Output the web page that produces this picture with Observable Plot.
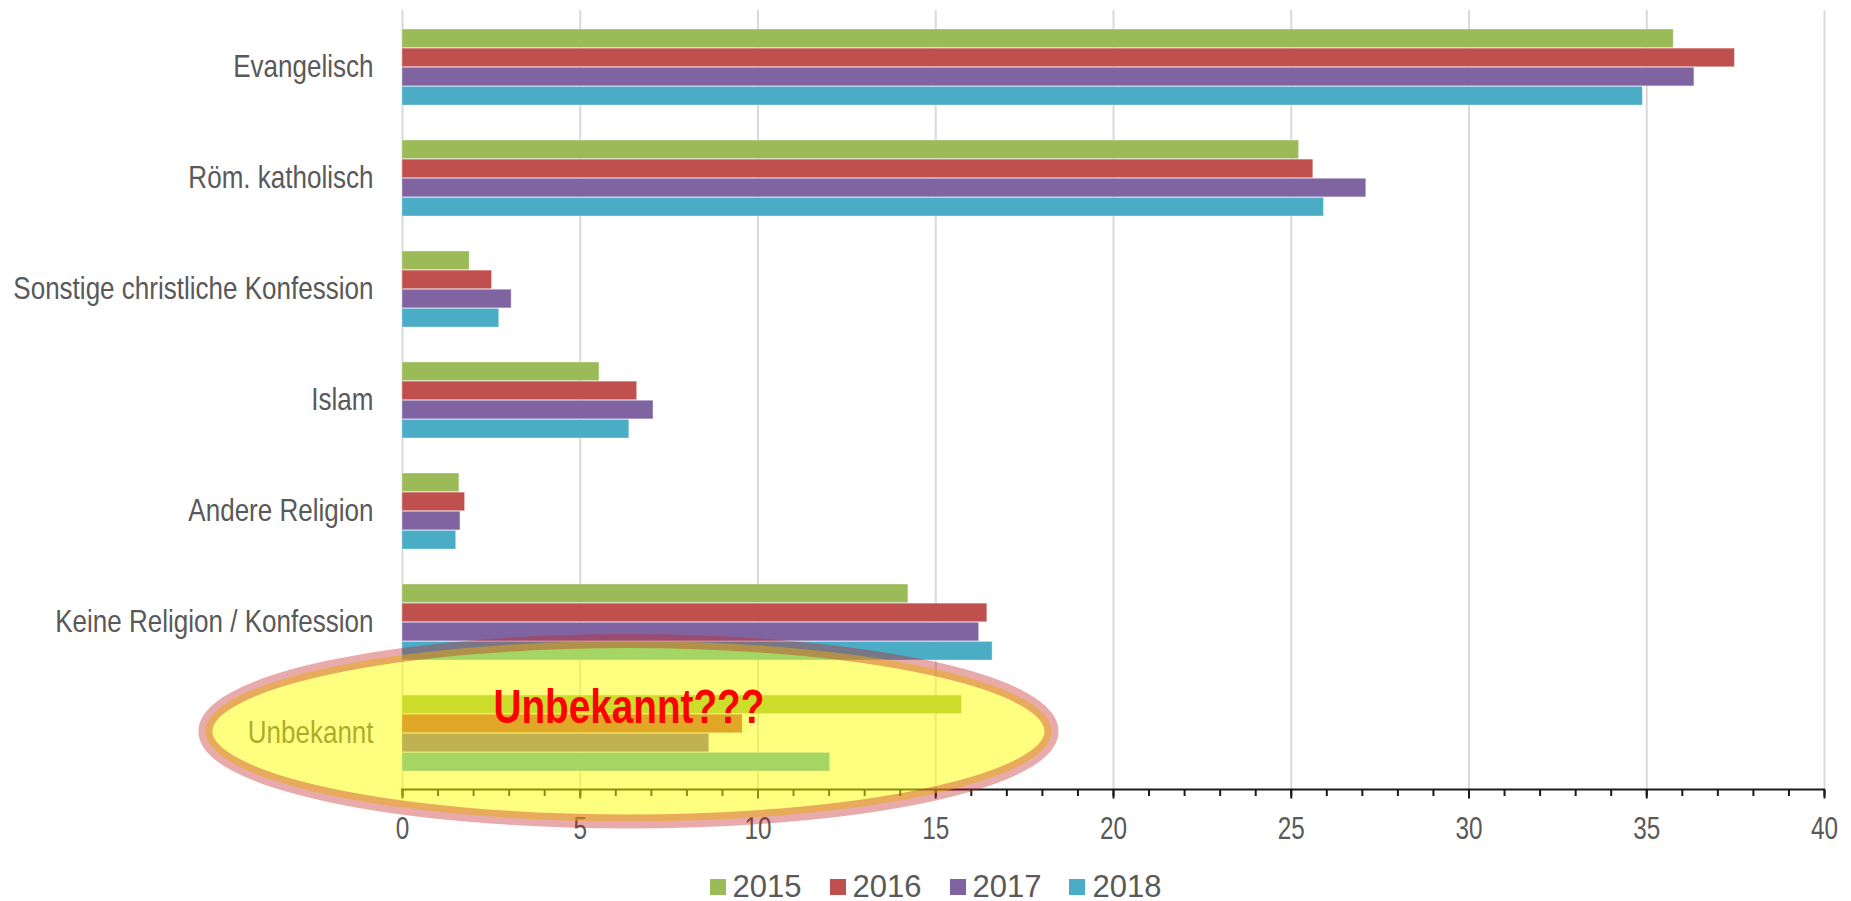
<!DOCTYPE html>
<html><head><meta charset="utf-8">
<script src="https://cdn.jsdelivr.net/npm/d3@7"></script>
<script src="https://cdn.jsdelivr.net/npm/@observablehq/plot@0.6"></script>
<style>
html,body{margin:0;padding:0;background:#fff;overflow:hidden;}
#legend{display:flex;justify-content:center;gap:28px;padding-left:20px;height:29px;align-items:center;font-family:"Liberation Sans",Arial,sans-serif;font-size:31px;color:#595959;}
.item{display:flex;align-items:center;gap:7px;}
.sw{width:16px;height:16px;display:inline-block;}
</style></head><body>
<div id="chart"></div><div id="legend"></div>
<script>
const categories = ["Evangelisch","Röm. katholisch","Sonstige christliche Konfession","Islam","Andere Religion","Keine Religion / Konfession","Unbekannt"];
const years = ["2015","2016","2017","2018"];
const colors = ["#9bbb59","#c0504d","#8064a2","#4bacc6"];
const v2015 = [35.76, 25.22, 1.89, 5.54, 1.60, 14.23, 15.74];
const v2016 = [37.48, 25.62, 2.52, 6.60, 1.76, 16.45, 9.57];
const v2017 = [36.34, 27.11, 3.07, 7.06, 1.63, 16.22, 8.63];
const v2018 = [34.89, 25.92, 2.72, 6.38, 1.51, 16.60, 12.03];
const majorTicks = [0,5,10,15,20,25,30,35,40];
const minorTicks = [0,1,2,3,4,5,6,7,8,9,10,11,12,13,14,15,16,17,18,19,20,21,22,23,24,25,26,27,28,29,30,31,32,33,34,35,36,37,38,39,40];
const annotation = [{label: "Unbekannt???", x: 6.37, category: "Unbekannt", rx: 11.9}];

const series = [v2015, v2016, v2017, v2018];
const rows = categories.flatMap((c, ci) => years.map((yr, yi) => ({category: c, year: yr, value: series[yi][ci]})));

const W = 1851, H = 872, mL = 402, mR = 27, mT = 10, mB = 82.5;
const padIn = 0.313, padOut = padIn / 2;
const step = (H - mT - mB) / (categories.length - padIn + 2 * padOut);
const bw = step * (1 - padIn);
const sub = bw / years.length;
const font = '"Liberation Sans",Arial,sans-serif';

const axisLine = (index, scales, values, dims) => {
  const y = dims.height - dims.marginBottom;
  return d3.create("svg:line")
    .attr("x1", scales.x(0) - 1).attr("x2", scales.x(40) + 1)
    .attr("y1", y).attr("y2", y)
    .attr("stroke", "#1a1a1a").attr("stroke-width", 2.2).node();
};
const ellipse = (index, scales, values, dims) => {
  const a = annotation[0];
  const cx = scales.x(a.x);
  const cy = scales.y(a.category) + bw / 2 - 2;
  const rx = scales.x(a.x + a.rx) - cx;
  const ry = step * 0.81;
  return d3.create("svg:ellipse")
    .attr("cx", cx).attr("cy", cy).attr("rx", rx).attr("ry", ry)
    .attr("fill", "rgba(255,255,0,0.5)")
    .attr("stroke", "rgba(196,36,36,0.39)").attr("stroke-width", 14).node();
};

const chart = Plot.plot({
  width: W, height: H,
  marginLeft: mL, marginRight: mR, marginTop: mT, marginBottom: mB,
  style: {fontFamily: font, background: "#fff"},
  x: {domain: [0, 40], label: null},
  y: {domain: categories, paddingInner: padIn, paddingOuter: padOut, label: null},
  color: {domain: years, range: colors},
  marks: [
    Plot.gridX(majorTicks, {stroke: "#d9d9d9", strokeOpacity: 1, strokeWidth: 2}),
    ...years.map((yr, i) => Plot.barX(rows.filter(d => d.year === yr), {
      x: "value", y: "category", fill: "year",
      insetTop: i * sub, insetBottom: (years.length - 1 - i) * sub,
      stroke: "#ffffff", strokeOpacity: 0.35, strokeWidth: 1
    })),
    axisLine,
    Plot.axisX(minorTicks, {tickSize: 6.5, tickFormat: () => "", stroke: "#1a1a1a", strokeWidth: 2}),
    Plot.axisX(majorTicks, {tickSize: 9, tickPadding: 17, fontSize: 32, fill: "#595959", stroke: "#1a1a1a", strokeWidth: 2, fontFamily: font}),
    Plot.axisY({tickSize: 0, tickPadding: 29, fontSize: 31, fill: "#595959", fontFamily: font}),
    ellipse,
    Plot.text(annotation, {x: "x", y: "category", text: "label", dy: -26, fontSize: 49, fontWeight: "bold", fill: "#ff0000", fontFamily: font, lineAnchor: "middle"})
  ]
});
document.getElementById("chart").append(chart);

// condense text horizontally around its anchor (mimics a narrow typeface)
function condense(selector, sx, anchor) {
  chart.querySelectorAll(selector).forEach(el => {
    const r = el.getBoundingClientRect();
    const ax = anchor === "end" ? r.right : anchor === "start" ? r.left : (r.left + r.right) / 2;
    const g = document.createElementNS("http://www.w3.org/2000/svg", "g");
    el.parentNode.insertBefore(g, el);
    g.appendChild(el);
    const p = new DOMPoint(ax, r.top).matrixTransform(g.getScreenCTM().inverse());
    g.setAttribute("transform", `translate(${p.x},0) scale(${sx},1) translate(${-p.x},0)`);
  });
}
condense('g[aria-label="y-axis tick label"] text', 0.84, "end");
condense('g[aria-label="x-axis tick label"] text', 0.76, "middle");
condense('g[aria-label="text"] text', 0.79, "middle");

const legend = d3.select("#legend");
years.forEach((yr, i) => {
  const it = legend.append("div").attr("class", "item");
  it.append("span").attr("class", "sw").style("background", colors[i]);
  it.append("span").text(yr);
});
</script>
</body></html>
